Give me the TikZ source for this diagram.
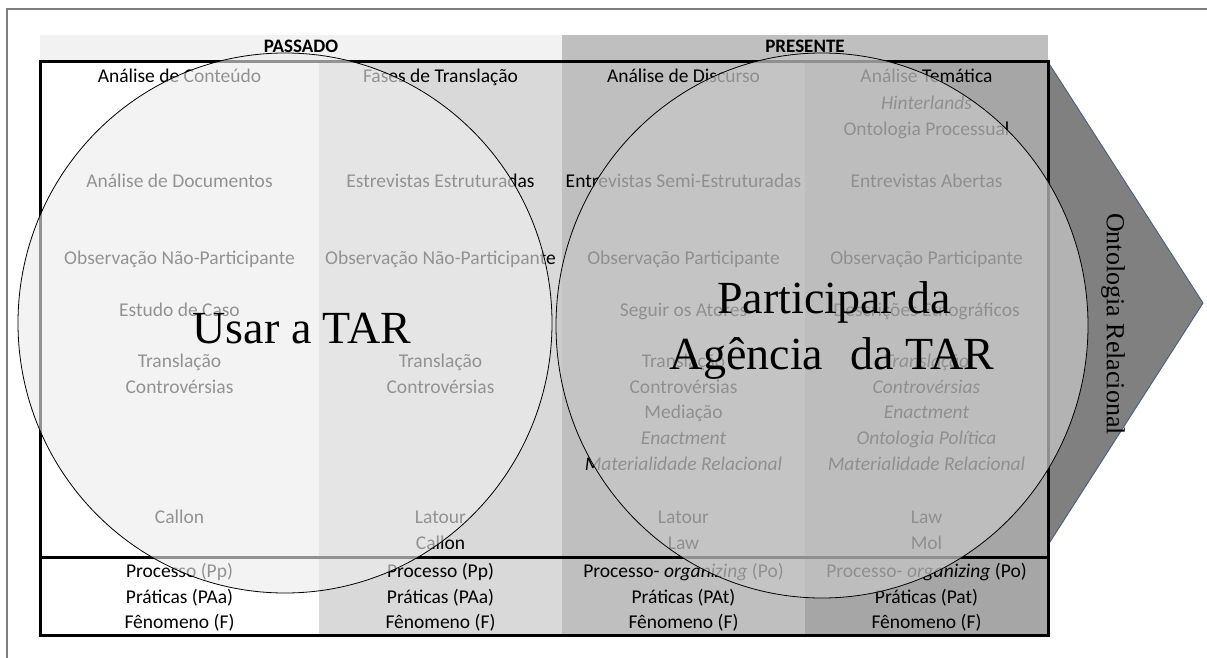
\documentclass[tikz,border=0pt]{standalone}
\usepackage{fontspec}
\setmainfont{Carlito}
\newfontfamily\serifbig{Liberation Serif}
\definecolor{hdrA}{HTML}{F2F2F2}
\definecolor{hdrB}{HTML}{BFBFBF}
\definecolor{colA}{HTML}{FFFFFF}
\definecolor{colB}{HTML}{D9D9D9}
\definecolor{colC}{HTML}{BFBFBF}
\definecolor{colD}{HTML}{A6A6A6}
\definecolor{arrowfill}{HTML}{808080}
\definecolor{arrowline}{HTML}{4A5F7F}
\definecolor{framegray}{HTML}{7F7F7F}
\begin{document}
\begin{tikzpicture}[x=1pt,y=-1pt,
  cell/.style={font=\fontsize{19.5}{22}\selectfont, inner sep=0pt, text height=12.5pt, text depth=3.5pt, anchor=center},
  hdr/.style={cell, font=\fontsize{19}{22}\selectfont\bfseries},
  bigtxt/.style={font=\serifbig\fontsize{46}{50}\selectfont, inner sep=0pt, anchor=base},
  ring/.style={draw=black, line width=0.8pt}
]
\useasboundingbox (0,0) rectangle (1207,658);
\fill[white] (0,0) rectangle (1207,658);
% outer frame (open at right and bottom)
\draw[framegray, line width=2pt] (7,658) -- (7,9) -- (1207,9);
% header band
\fill[hdrA] (40,35) rectangle (562,62);
\fill[hdrB] (562,35) rectangle (1048,62);
\node[hdr] (passado) at (301,48) {PASSADO};
\node[hdr] (presente) at (805,48) {PRESENTE};
% column backgrounds
\fill[colA] (40,62) rectangle (319,635);
\fill[colB] (319,62) rectangle (562,635);
\fill[colC] (562,62) rectangle (805,635);
\fill[colD] (805,62) rectangle (1048,635);
% arrow
\coordinate (atop) at (1048,62);
\coordinate (atip) at (1203,303);
\coordinate (abot) at (1048,545);
\filldraw[fill=arrowfill, draw=arrowline, line width=0.9pt] (atop) -- (atip) -- (abot) -- cycle;
\node[font=\serifbig\fontsize{26}{28}\selectfont, rotate=-90, inner sep=0pt] (ontrel) at (1113,324) {Ontologia Relacional};
% table border
\draw[black, line width=3pt] (40,62) rectangle (1048,635);
\draw[black, line width=3pt] (40,557) -- (1048,557);
% column 1
\node[cell] (a1) at (179.5,78) {Análise de Conteúdo};
\node[cell] (a2) at (179.5,183) {Análise de Documentos};
\node[cell] (a3) at (179.5,260) {Observação Não-Participante};
\node[cell] (a4) at (179.5,312) {Estudo de Caso};
\node[cell] (a5) at (179.5,363) {Translação};
\node[cell] (a6) at (179.5,389) {Controvérsias};
\node[cell] (a7) at (179.5,519) {Callon};
\node[cell] (a8) at (179.5,573) {Processo (Pp)};
\node[cell] (a9) at (179.5,599) {Práticas (PAa)};
\node[cell] (a10) at (179.5,624) {Fênomeno (F)};
% column 2
\node[cell] (b1) at (440.5,78) {Fases de Translação};
\node[cell] (b2) at (440.5,183) {Estrevistas Estruturadas};
\node[cell] (b3) at (440.5,260) {Observação Não-Participante};
\node[cell] (b5) at (440.5,363) {Translação};
\node[cell] (b6) at (440.5,389) {Controvérsias};
\node[cell] (b7) at (440.5,519) {Latour};
\node[cell] (b7b) at (440.5,545) {Callon};
\node[cell] (b8) at (440.5,573) {Processo (Pp)};
\node[cell] (b9) at (440.5,599) {Práticas (PAa)};
\node[cell] (b10) at (440.5,624) {Fênomeno (F)};
% column 3
\node[cell] (c1) at (683.5,78) {Análise de Discurso};
\node[cell] (c2) at (683.5,183) {Entrevistas Semi-Estruturadas};
\node[cell] (c3) at (683.5,260) {Observação Participante};
\node[cell] (c4) at (683.5,312) {Seguir os Atores};
\node[cell] (c5) at (683.5,363) {Translação};
\node[cell] (c6) at (683.5,389) {Controvérsias};
\node[cell] (c6b) at (683.5,414) {Mediação};
\node[cell] (c6c) at (683.5,440) {\itshape Enactment};
\node[cell] (c6d) at (683.5,466) {\itshape Materialidade Relacional};
\node[cell] (c7) at (683.5,519) {Latour};
\node[cell] (c7b) at (683.5,545) {Law};
\node[cell] (c8) at (683.5,573) {Processo- \textit{organizing} (Po)};
\node[cell] (c9) at (683.5,599) {Práticas (PAt)};
\node[cell] (c10) at (683.5,624) {Fênomeno (F)};
% column 4
\node[cell] (d1) at (926.5,78) {Análise Temática};
\node[cell] (d1b) at (926.5,105) {\itshape Hinterlands};
\node[cell] (d1c) at (926.5,131) {Ontologia Processual};
\node[cell] (d2) at (926.5,183) {Entrevistas Abertas};
\node[cell] (d3) at (926.5,260) {Observação Participante};
\node[cell] (d4) at (926.5,312) {Descrições Etnográficos};
\node[cell] (d5) at (926.5,363) {\itshape Translação};
\node[cell] (d6) at (926.5,389) {\itshape Controvérsias};
\node[cell] (d6b) at (926.5,414) {\itshape Enactment};
\node[cell] (d6c) at (926.5,440) {\itshape Ontologia Política};
\node[cell] (d6d) at (926.5,466) {\itshape Materialidade Relacional};
\node[cell] (d7) at (926.5,519) {Law};
\node[cell] (d7b) at (926.5,545) {Mol};
\node[cell] (d8) at (926.5,573) {Processo- \textit{organizing} (Po)};
\node[cell] (d9) at (926.5,599) {Práticas (Pat)};
\node[cell] (d10) at (926.5,624) {Fênomeno (F)};
% translucent circles
\path[ring, fill=white!93!black, fill opacity=0.62] (285,323) ellipse [x radius=267, y radius=270];
\path[ring, fill=white!78!black, fill opacity=0.72] (822,325.5) ellipse [x radius=266, y radius=272.5];
% big labels
\node[bigtxt] (usar) at (302,343) {Usar a TAR};
\node[bigtxt] (part1) at (834,313) {Participar da};
\node[bigtxt] (part2) at (832,369) {Agência\hspace{0.35em} da TAR};
\end{tikzpicture}
\end{document}
